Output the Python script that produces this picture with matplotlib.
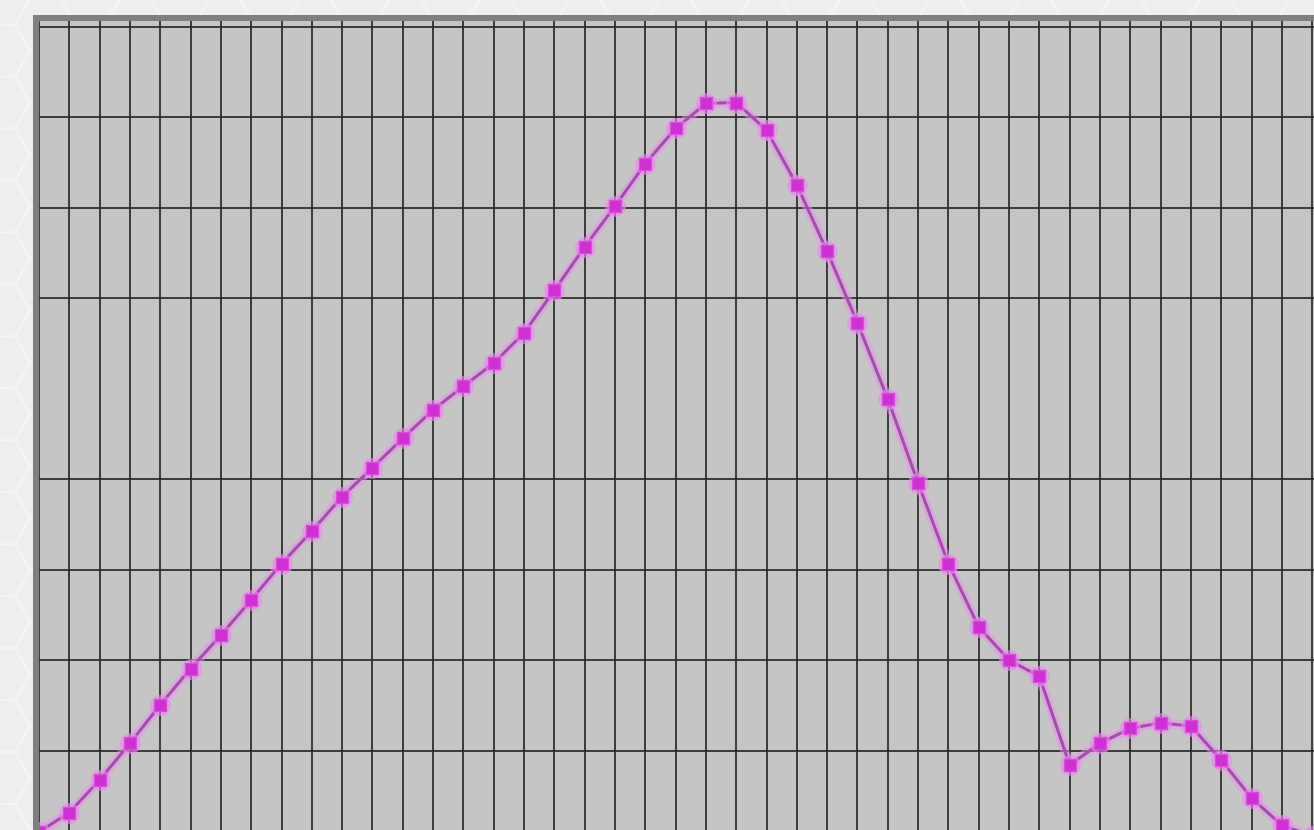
import matplotlib
matplotlib.use('Agg')
import matplotlib.pyplot as plt
from matplotlib.patches import Rectangle, RegularPolygon
import numpy as np

# ---- data ----
x_idx = list(range(43))
values = [1.05, 3.2, 6.8, 10.85, 15.1, 19.1, 22.8, 26.7, 30.7, 34.3,
          38.1, 41.3, 44.55, 47.7, 50.3, 52.85, 56.2, 60.9, 65.7, 70.2,
          74.9, 78.8, 81.55, 81.65, 78.6, 72.55, 65.2, 57.3, 48.9, 39.6,
          30.7, 23.7, 20.05, 18.25, 8.45, 10.85, 12.5, 13.1, 12.75, 9.0,
          4.8, 1.8, 0.6]
x_grid = list(range(0, 43))
y_grid = [10, 20, 30, 40, 60, 70, 80, 90]

W, H = 1314, 830
fig = plt.figure(figsize=(W / 100, H / 100), dpi=100, facecolor='#eeeeee')

# subtle hexagon background pattern
R = 30.0
s3 = np.sqrt(3)
for col in range(-1, 32):
    for row in range(-1, 20):
        cx = col * 1.5 * R
        cy = row * s3 * R + (col % 2) * s3 * R / 2
        p = RegularPolygon((cx / 100, cy / 100), 6, radius=R / 100,
                           orientation=np.pi / 6, fill=False,
                           edgecolor='#f5f5f5', lw=1.2,
                           transform=fig.dpi_scale_trans, zorder=-3)
        fig.add_artist(p)

# dark grey frame around the plot area
frame = Rectangle((33 / 100, -0.2), (W - 33) / 100 + 1, (H - 15) / 100 + 0.2,
                  facecolor='#7f7f7f', edgecolor='none',
                  transform=fig.dpi_scale_trans, zorder=-2)
fig.add_artist(frame)

ax = fig.add_axes([39 / W, 0, (W - 39) / W, (H - 21) / H])
ax.set_zorder(5)
ax.set_facecolor('#c5c5c5')
for sp in ax.spines.values():
    sp.set_visible(False)

ax.set_xlim(0.089, 42.06)
ax.set_ylim(1.27, 90.66)
ax.set_xticks(x_grid)
ax.set_yticks(y_grid)
ax.set_axisbelow(True)
ax.grid(True, color='#2a2a2a', lw=1.25)
ax.tick_params(length=0, labelbottom=False, labelleft=False)

# glow + line + markers
ax.plot(x_idx, values, color='#ec8cf0', lw=6.5, alpha=0.5,
        solid_capstyle='round', zorder=3)
ax.plot(x_idx, values, color='#a54caf', lw=2.2, zorder=4)
ax.plot(x_idx, values, ls='none', marker='o', ms=14, color='#ee88f0',
        alpha=0.55, zorder=5)
ax.plot(x_idx, values, ls='none', marker='s', ms=9, color='#cf2fd4',
        mec='#d94cdc', mew=1, zorder=6)

fig.savefig('out.png', dpi=100, facecolor=fig.get_facecolor())
